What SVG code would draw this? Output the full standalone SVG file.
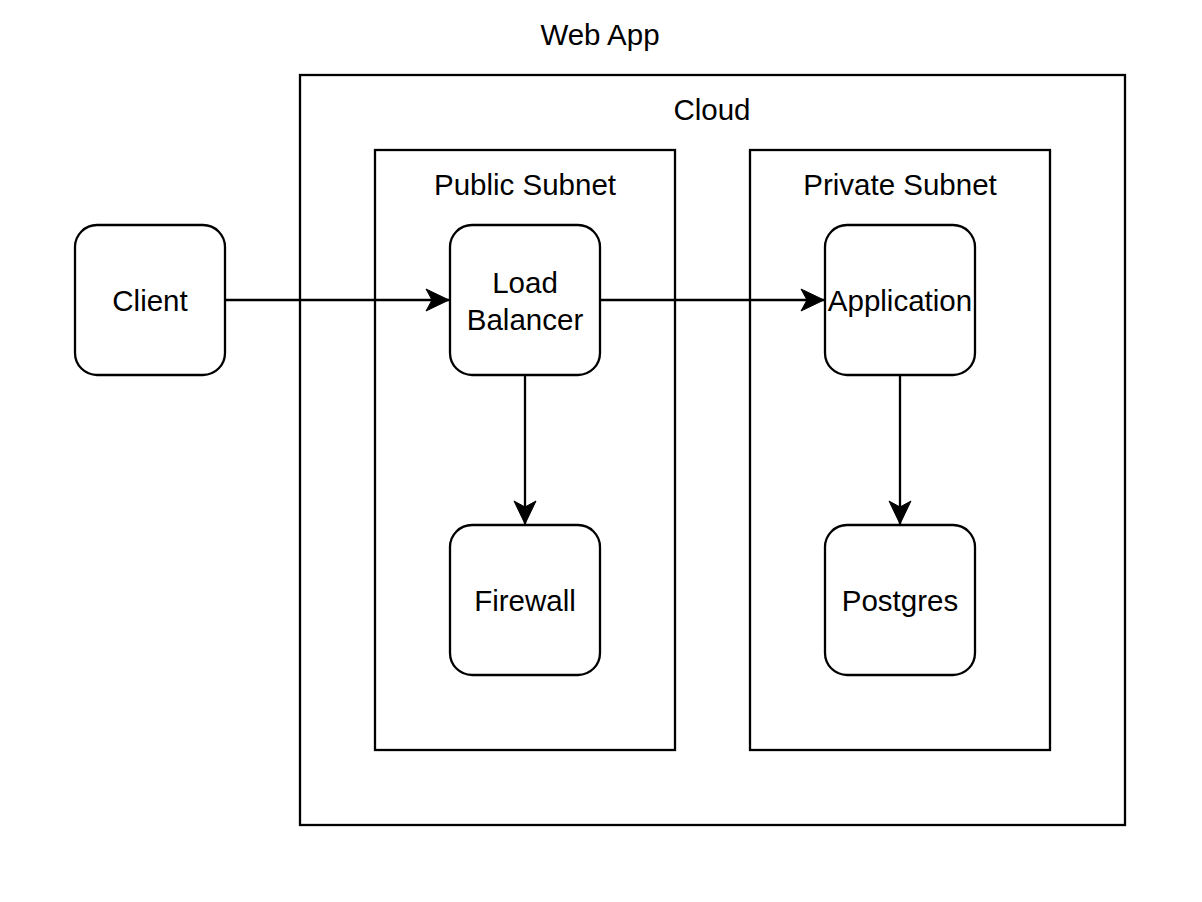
<svg xmlns="http://www.w3.org/2000/svg" width="1202" height="902" viewBox="0 0 1202 902">
<style>
.box{fill:#fff;stroke:#000;stroke-width:2.3}
.grp{fill:none;stroke:#000;stroke-width:2.3}
.t{font-family:"Liberation Sans",Arial,sans-serif;font-size:29.5px;fill:#000;text-anchor:middle}
.c{fill:none;stroke:#000;stroke-width:2.3}
</style>
<defs>
<marker id="arr" markerUnits="userSpaceOnUse" markerWidth="28" markerHeight="28" viewBox="-25 -14 28 28" refX="0" refY="0" orient="auto">
<path d="M0,0 L-23,-11 L-17,0 L-23,11 Z" fill="#000" stroke="#000" stroke-width="1"/>
</marker>
</defs>
<rect width="1202" height="902" fill="#fff"/>
<g id="webapp"><text class="t" x="600" y="45">Web App</text></g>
<g id="cloud"><rect class="grp" x="300" y="75" width="825" height="750"/><text class="t" x="712" y="120">Cloud</text></g>
<g id="public-subnet"><rect class="grp" x="375" y="150" width="300" height="600"/><text class="t" x="525" y="195">Public Subnet</text></g>
<g id="private-subnet"><rect class="grp" x="750" y="150" width="300" height="600"/><text class="t" x="900" y="195">Private Subnet</text></g>
<g id="connectors">
<path class="c" d="M225,300 L449,300" marker-end="url(#arr)"/>
<path class="c" d="M600,300 L824,300" marker-end="url(#arr)"/>
<path class="c" d="M525,375 L525,524" marker-end="url(#arr)"/>
<path class="c" d="M900,375 L900,524" marker-end="url(#arr)"/>
</g>
<g id="client"><rect class="box" x="75" y="225" width="150" height="150" rx="22"/><text class="t" x="150" y="311">Client</text></g>
<g id="load-balancer"><rect class="box" x="450" y="225" width="150" height="150" rx="22"/><text class="t" x="525" y="293">Load</text><text class="t" x="525" y="330">Balancer</text></g>
<g id="firewall"><rect class="box" x="450" y="525" width="150" height="150" rx="22"/><text class="t" x="525" y="611">Firewall</text></g>
<g id="application"><rect class="box" x="825" y="225" width="150" height="150" rx="22"/><text class="t" x="900" y="311">Application</text></g>
<g id="postgres"><rect class="box" x="825" y="525" width="150" height="150" rx="22"/><text class="t" x="900" y="611">Postgres</text></g>
</svg>
